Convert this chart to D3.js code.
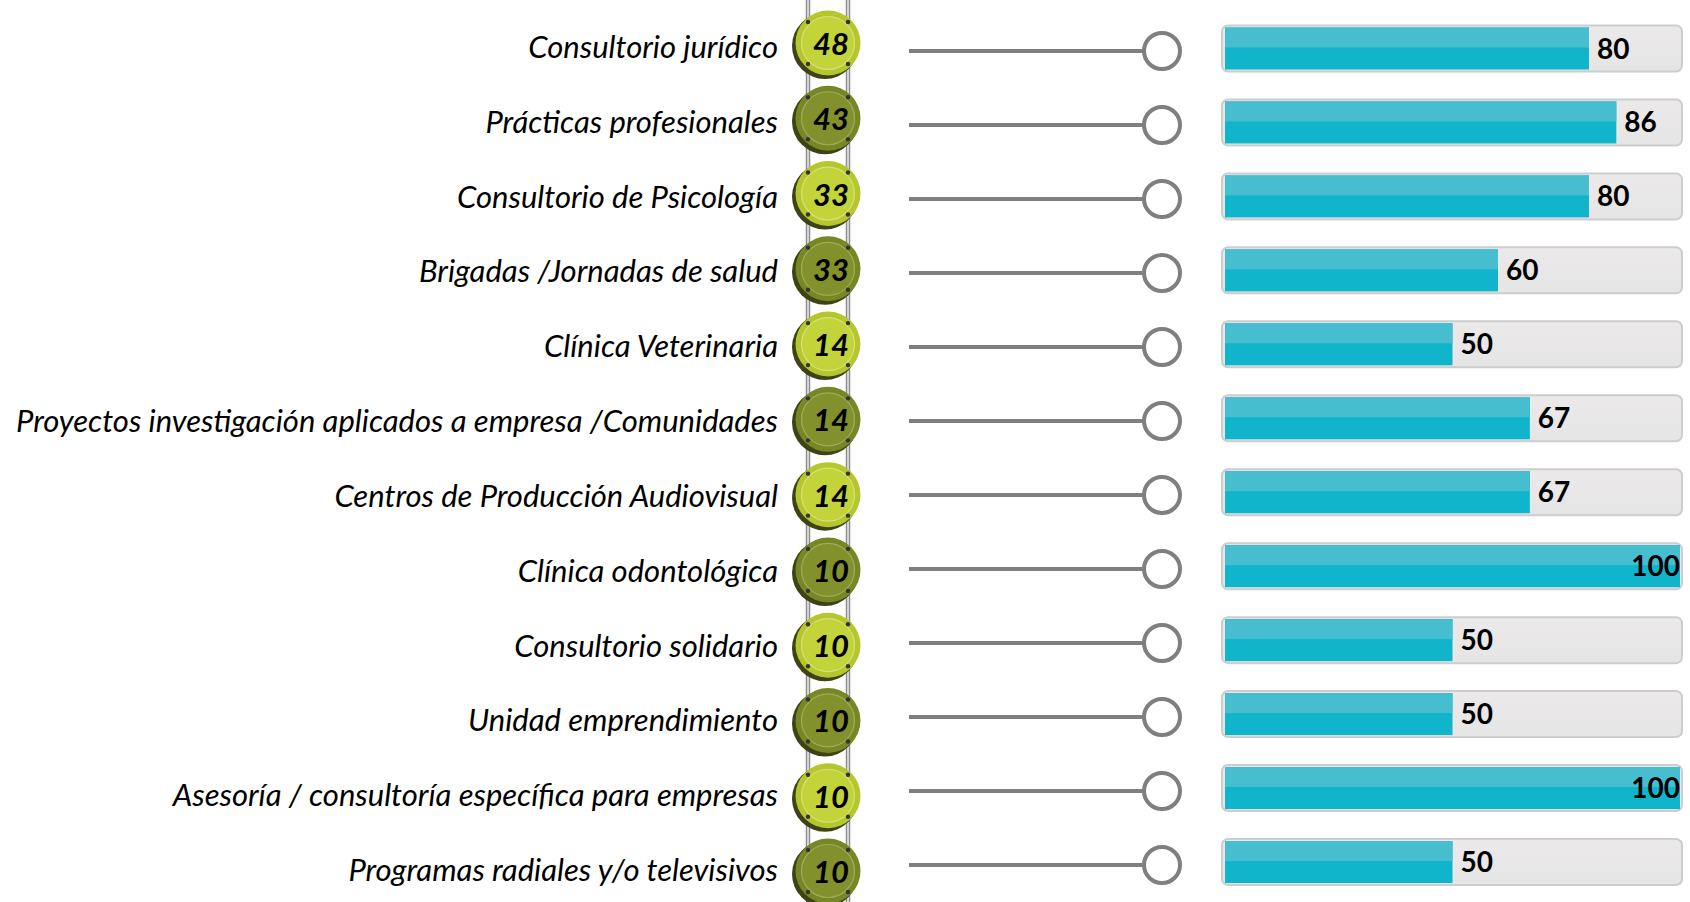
<!DOCTYPE html>
<html><head><meta charset="utf-8">
<script src="https://cdn.jsdelivr.net/npm/d3@7"></script>
<style>html,body{margin:0;padding:0;background:#fff;overflow:hidden}</style>
</head><body>
<svg id="chart" width="1690" height="902"></svg>
<script>
const categories = [
  "Consultorio jurídico",
  "Prácticas profesionales",
  "Consultorio de Psicología",
  "Brigadas /Jornadas de salud",
  "Clínica Veterinaria",
  "Proyectos investigación aplicados a empresa /Comunidades",
  "Centros de Producción Audiovisual",
  "Clínica odontológica",
  "Consultorio solidario",
  "Unidad emprendimiento",
  "Asesoría / consultoría específica para empresas",
  "Programas radiales y/o televisivos"
];
const counts = [48, 43, 33, 33, 14, 14, 14, 10, 10, 10, 10, 10];
const percentages = [80, 86, 80, 60, 50, 67, 67, 100, 50, 50, 100, 50];

const rows = categories.map((c, i) => ({cat: c, count: counts[i], pct: percentages[i], i}));
const svg = d3.select("#chart");

const defs = svg.append("defs");
const tg = defs.append("linearGradient").attr("id", "track").attr("x1", 0).attr("y1", 0).attr("x2", 0).attr("y2", 1);
tg.append("stop").attr("offset", "0%").attr("stop-color", "#ebe9e9");
tg.append("stop").attr("offset", "100%").attr("stop-color", "#e6e5e5");

const yLabel = d3.scalePoint().domain(categories).range([47, 870]);
const yBadge = d3.scalePoint().domain(categories).range([43, 871]);
const yLine = d3.scalePoint().domain(categories).range([51, 865]);
const yBar = d3.scalePoint().domain(categories).range([48.5, 862]);
const x = d3.scaleLinear().domain([0, 100]).range([1225, 1680]);

// labels
svg.append("g").selectAll("text").data(rows).join("text")
  .attr("x", 778).attr("y", d => yLabel(d.cat) + 11)
  .attr("text-anchor", "end")
  .style("font-family", "Lato, 'Open Sans', sans-serif")
  .style("font-style", "italic")
  .style("font-size", "31px")
  .attr("fill", "#000")
  .text(d => d.cat);

// rails
const railX = [808, 848];
const rails = svg.append("g");
railX.forEach(rx => {
  rails.append("line").attr("x1", rx).attr("x2", rx).attr("y1", 0).attr("y2", 902)
    .attr("stroke", "#8c8c8c").attr("stroke-width", 4.5);
  rails.append("line").attr("x1", rx).attr("x2", rx).attr("y1", 0).attr("y2", 902)
    .attr("stroke", "#d4d4d4").attr("stroke-width", 2);
});

// badges
const light = {rim: "#b6c72d", inner: "#c3d33a", ring: "#d6e07a"};
const dark = {rim: "#778725", inner: "#83912c", ring: "#a0ab5a"};
const bx = 828;
const badges = svg.append("g").selectAll("g").data(rows).join("g")
  .attr("transform", d => `translate(${bx},${yBadge(d.cat)})`);
badges.append("circle").attr("cx", -3).attr("cy", 3).attr("r", 33).attr("fill", "#3e4214");
badges.append("circle").attr("r", 32.5).attr("fill", d => (d.i % 2 ? dark : light).rim);
badges.append("circle").attr("r", 26.5).attr("fill", d => (d.i % 2 ? dark : light).inner)
  .attr("stroke", d => (d.i % 2 ? dark : light).ring).attr("stroke-width", 1.2);
[[-20, -21], [20, -21], [-20, 21], [20, 21]].forEach(([dx, dy]) => {
  badges.append("circle").attr("cx", dx).attr("cy", dy).attr("r", 2.2).attr("fill", "#333");
});
badges.append("text").attr("x", 3).attr("y", 12)
  .attr("text-anchor", "middle")
  .style("font-family", "Lato, 'Open Sans', sans-serif")
  .style("font-style", "italic").style("font-weight", "bold")
  .style("font-size", "31px").attr("fill", "#000")
  .text(d => d.count);

// lollipop lines
const lg = svg.append("g");
lg.selectAll("line").data(rows).join("line")
  .attr("x1", 909).attr("x2", 1143)
  .attr("y1", d => yLine(d.cat)).attr("y2", d => yLine(d.cat))
  .attr("stroke", "#7f7f7f").attr("stroke-width", 4);
lg.selectAll("circle").data(rows).join("circle")
  .attr("cx", 1162).attr("cy", d => yLine(d.cat)).attr("r", 18)
  .attr("fill", "#fff").attr("stroke", "#7f7f7f").attr("stroke-width", 4);

// bars
const bg = svg.append("g").selectAll("g").data(rows).join("g")
  .attr("transform", d => `translate(0,${yBar(d.cat)})`);
bg.append("rect").attr("x", 1222).attr("y", -23).attr("width", 460).attr("height", 46)
  .attr("rx", 6).attr("fill", "url(#track)").attr("stroke", "#cdcdcd").attr("stroke-width", 2);
bg.append("rect").attr("x", x(0)).attr("y", -21)
  .attr("width", d => x(d.pct) - x(0)).attr("height", 42)
  .attr("fill", "#10b4cb");
bg.append("rect").attr("x", x(0)).attr("y", -21)
  .attr("width", d => x(d.pct) - x(0)).attr("height", 20)
  .attr("fill", "#47bdd0");
bg.append("text")
  .attr("x", d => d.pct >= 100 ? x(d.pct) : x(d.pct) + 8)
  .attr("y", 10)
  .attr("text-anchor", d => d.pct >= 100 ? "end" : "start")
  .style("font-family", "Lato, 'Open Sans', sans-serif")
  .style("font-weight", "bold").style("font-size", "28px").attr("fill", "#000")
  .text(d => d.pct);
</script>
</body></html>
